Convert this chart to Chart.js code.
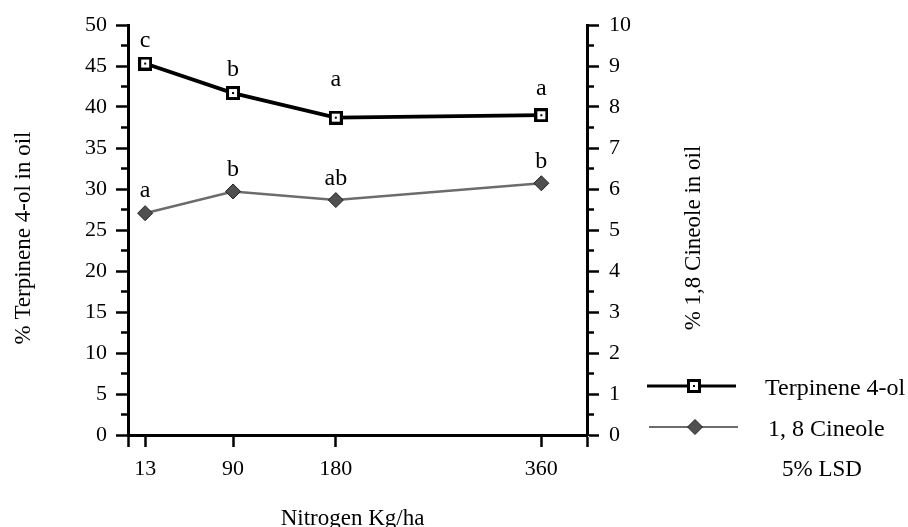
<!DOCTYPE html>
<html>
<head>
<meta charset="utf-8">
<script src="https://cdn.jsdelivr.net/npm/chart.js@4.4.1/dist/chart.umd.min.js"></script>
<style>
  html, body { margin: 0; padding: 0; background: #fff; }
  #wrap { width: 908px; height: 527px; }
</style>
</head>
<body>
<div id="wrap"><canvas id="chart" width="908" height="527"></canvas></div>
<script>
// Nitrogen rates (kg/ha) and the measured oil composition at each rate
const nitrogen = [13, 90, 180, 360];
const terpinene = [45.3, 41.7, 38.7, 39.0];   // % Terpinene 4-ol, left axis
const cineole = [5.41, 5.94, 5.73, 6.14];      // % 1,8 Cineole, right axis

// LSD (5%) groupings printed above each point
const terpineneGroups = ['c', 'b', 'a', 'a'];
const cineoleGroups = ['a', 'b', 'ab', 'b'];

// Axis ranges and tick labels
const xTickLabels = [13, 90, 180, 360];
const xRange = [-2, 400];
const leftRange = [0, 50];
const rightRange = [0, 10];

const SERIF = "'Liberation Serif', 'Times New Roman', serif";
Chart.defaults.font.family = SERIF;
Chart.defaults.color = '#000';

// Open square with a centre dot, used for the Terpinene series
function squareMarker() {
  const c = document.createElement('canvas');
  c.width = 14; c.height = 14;
  const g = c.getContext('2d');
  g.fillStyle = '#000'; g.fillRect(0, 0, 14, 14);
  g.fillStyle = '#fff'; g.fillRect(3, 3, 8, 8);
  g.fillStyle = '#000'; g.fillRect(6, 6, 2, 2);
  return c;
}
const squareImg = squareMarker();

const terpStyle = { color: '#000', width: 3.8 };
const cinStyle = { color: '#6c6c6c', width: 2.6, fill: '#505050', edge: '#222', radius: 7.5 };

// Baseline lift of the grouping letters above each point (px)
const terpLift = [17, 17, 32, 20];
const cinLift = [16, 15, 15, 15];

// Short minor ticks between the labelled ones on both value axes
const minorTicks = {
  id: 'minorTicks',
  afterDraw(chart) {
    const ctx = chart.ctx;
    ctx.save();
    ctx.strokeStyle = '#000';
    ctx.lineWidth = 2.5;
    [['y', 5, -1], ['y1', 1, 1]].forEach(([id, major, dir]) => {
      const s = chart.scales[id];
      const edge = dir < 0 ? s.right : s.left;
      s.ticks.forEach(t => {
        if (Math.abs(t.value / major - Math.round(t.value / major)) < 1e-6) return;
        const y = s.getPixelForValue(t.value);
        ctx.beginPath();
        ctx.moveTo(edge, y);
        ctx.lineTo(edge + dir * 7, y);
        ctx.stroke();
      });
    });
    ctx.restore();
  }
};

// Grouping letters above the points
const groupLetters = {
  id: 'groupLetters',
  afterDatasetsDraw(chart) {
    const ctx = chart.ctx;
    ctx.save();
    ctx.font = '24px ' + SERIF;
    ctx.fillStyle = '#000';
    ctx.textAlign = 'center';
    ctx.textBaseline = 'alphabetic';
    [[0, terpineneGroups, terpLift], [1, cineoleGroups, cinLift]].forEach(([di, letters, lift]) => {
      const meta = chart.getDatasetMeta(di);
      meta.data.forEach((pt, i) => {
        ctx.fillText(letters[i], pt.x, pt.y - lift[i]);
      });
    });
    ctx.restore();
  }
};

// Axis titles and the key in the lower right
const titlesAndKey = {
  id: 'titlesAndKey',
  afterDraw(chart) {
    const ctx = chart.ctx;
    const a = chart.chartArea;
    ctx.save();
    ctx.fillStyle = '#000';
    ctx.font = '23px ' + SERIF;
    ctx.textAlign = 'center';
    ctx.textBaseline = 'alphabetic';
    ctx.fillText('Nitrogen Kg/ha', (a.left + a.right) / 2 - 5, 525);

    const midY = (a.top + a.bottom) / 2 + 8;
    ctx.save();
    ctx.translate(30, midY);
    ctx.rotate(-Math.PI / 2);
    ctx.fillText('% Terpinene 4-ol in oil', 0, 0);
    ctx.restore();
    ctx.save();
    ctx.translate(700, midY);
    ctx.rotate(-Math.PI / 2);
    ctx.fillText('% 1,8 Cineole in oil', 0, 0);
    ctx.restore();

    // key
    const kx0 = 647, kx1 = 736, ky1 = 386, ky2 = 427;
    ctx.lineCap = 'butt';
    ctx.strokeStyle = terpStyle.color; ctx.lineWidth = terpStyle.width - 0.8;
    ctx.beginPath(); ctx.moveTo(kx0, ky1); ctx.lineTo(kx1, ky1); ctx.stroke();
    ctx.drawImage(squareImg, 694 - 7, ky1 - 7);

    ctx.strokeStyle = cinStyle.color; ctx.lineWidth = cinStyle.width - 0.5;
    ctx.beginPath(); ctx.moveTo(kx0 + 2, ky2); ctx.lineTo(kx1 + 2, ky2); ctx.stroke();
    const r = cinStyle.radius, cx = 695;
    ctx.beginPath();
    ctx.moveTo(cx, ky2 - r); ctx.lineTo(cx + r, ky2); ctx.lineTo(cx, ky2 + r); ctx.lineTo(cx - r, ky2);
    ctx.closePath();
    ctx.fillStyle = cinStyle.fill; ctx.fill();
    ctx.strokeStyle = cinStyle.edge; ctx.lineWidth = 1; ctx.stroke();

    ctx.fillStyle = '#000';
    ctx.textAlign = 'left';
    ctx.font = '24px ' + SERIF;
    ctx.fillText('Terpinene 4-ol', 765, 395);
    ctx.fillText('1, 8 Cineole', 768, 436);
    ctx.font = '23px ' + SERIF;
    ctx.fillText('5% LSD', 782, 476);
    ctx.restore();
  }
};

const isMultiple = (v, m) => Math.abs(v / m - Math.round(v / m)) < 1e-6;

new Chart(document.getElementById('chart'), {
  type: 'line',
  data: {
    datasets: [
      {
        label: 'Terpinene 4-ol',
        data: nitrogen.map((n, i) => ({ x: n, y: terpinene[i] })),
        yAxisID: 'y',
        borderColor: terpStyle.color,
        borderWidth: terpStyle.width,
        pointStyle: squareImg,
        pointRadius: 7,
        tension: 0,
        fill: false
      },
      {
        label: '1, 8 Cineole',
        data: nitrogen.map((n, i) => ({ x: n, y: cineole[i] })),
        yAxisID: 'y1',
        borderColor: cinStyle.color,
        borderWidth: cinStyle.width,
        pointStyle: 'rectRot',
        pointRadius: cinStyle.radius,
        pointBackgroundColor: cinStyle.fill,
        pointBorderColor: cinStyle.edge,
        pointBorderWidth: 1,
        tension: 0,
        fill: false
      }
    ]
  },
  options: {
    responsive: false,
    animation: false,
    events: [],
    layout: { padding: { top: 25, left: 0, right: 0, bottom: 0 } },
    plugins: { legend: { display: false }, tooltip: { enabled: false } },
    scales: {
      x: {
        type: 'linear',
        position: 'bottom',
        min: xRange[0],
        max: xRange[1],
        afterBuildTicks: s => { s.ticks = [xRange[0], ...xTickLabels, xRange[1]].map(v => ({ value: v })); },
        afterFit: s => { s.height = 92; },
        border: { display: true, color: '#000', width: 3 },
        grid: { drawOnChartArea: false, drawTicks: true, tickLength: 12, tickWidth: 2.5, tickColor: '#000' },
        ticks: {
          autoSkip: false, maxRotation: 0, padding: 9,
          font: { size: 22 }, color: '#000',
          callback: v => xTickLabels.includes(v) ? String(v) : ''
        }
      },
      y: {
        type: 'linear',
        position: 'left',
        min: leftRange[0],
        max: leftRange[1],
        afterFit: s => { s.width = 128; },
        border: { display: true, color: '#000', width: 3 },
        grid: {
          drawOnChartArea: false, drawTicks: true, tickLength: 12, tickWidth: 2.5,
          tickColor: c => (c.tick && isMultiple(c.tick.value, 5)) ? '#000' : 'rgba(0,0,0,0)'
        },
        ticks: {
          stepSize: 2.5, autoSkip: false, padding: 9,
          font: { size: 22 }, color: '#000',
          callback: v => isMultiple(v, 5) ? String(v) : ''
        }
      },
      y1: {
        type: 'linear',
        position: 'right',
        min: rightRange[0],
        max: rightRange[1],
        afterFit: s => { s.width = 321; },
        border: { display: true, color: '#000', width: 3 },
        grid: {
          drawOnChartArea: false, drawTicks: true, tickLength: 12, tickWidth: 2.5,
          tickColor: c => (c.tick && isMultiple(c.tick.value, 1)) ? '#000' : 'rgba(0,0,0,0)'
        },
        ticks: {
          stepSize: 0.5, autoSkip: false, padding: 10,
          font: { size: 22 }, color: '#000',
          callback: v => isMultiple(v, 1) ? String(v) : ''
        }
      }
    }
  },
  plugins: [minorTicks, groupLetters, titlesAndKey]
});
</script>
</body>
</html>
